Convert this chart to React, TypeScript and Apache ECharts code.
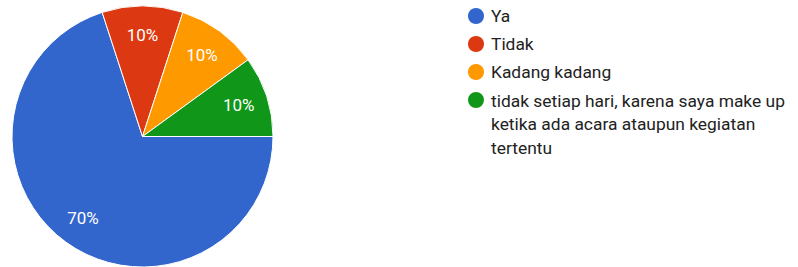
import React, { useEffect, useRef } from "react";
import * as echarts from "echarts";

const categories = [
  "Ya",
  "Tidak",
  "Kadang kadang",
  "tidak setiap hari, karena saya make up ketika ada acara ataupun kegiatan tertentu",
];
const values = [7, 1, 1, 1];
const colors = ["#3366cc", "#dc3912", "#ff9900", "#109618"];
const legendLabels = [
  "Ya",
  "Tidak",
  "Kadang kadang",
  "tidak setiap hari, karena saya make up\nketika ada acara ataupun kegiatan\ntertentu",
];

const FONT = "Roboto, Arial, sans-serif";

export default function App() {
  const ref = useRef<HTMLDivElement>(null);
  useEffect(() => {
    if (!ref.current) return;
    const chart = echarts.init(ref.current, undefined, { renderer: "svg" });
    const data = categories.map((name, i) => ({
      name,
      value: values[i],
      itemStyle: { color: colors[i] },
    }));
    const labelFor = (name: string) => legendLabels[categories.indexOf(name)] ?? name;
    chart.setOption({
      animation: false,
      backgroundColor: "#ffffff",
      legend: [
        {
          orient: "vertical",
          left: 466,
          top: 6,
          padding: 0,
          itemWidth: 18,
          itemHeight: 18,
          itemGap: 8,
          icon: "circle",
          selectedMode: false,
          data: categories.slice(0, 3),
          formatter: labelFor,
          textStyle: { fontFamily: FONT, fontSize: 17.4, color: "#222222", lineHeight: 18, padding: [0, 0, 0, 1] },
        },
        {
          orient: "vertical",
          left: 466,
          top: 87,
          padding: 0,
          itemWidth: 18,
          itemHeight: 72,
          selectedMode: false,
          data: [
            {
              name: categories[3],
              icon: "path://M0,0L0,0M18,72L18,72M0,12A9,9,0,1,0,18,12A9,9,0,1,0,0,12Z",
            },
          ],
          formatter: labelFor,
          textStyle: { fontFamily: FONT, fontSize: 17.4, color: "#222222", lineHeight: 23.5, padding: [0, 0, 0, 1] },
        },
      ],
      series: [
        {
          type: "pie",
          center: [142.5, 136.5],
          radius: 130.5,
          startAngle: 0,
          clockwise: true,
          silent: true,
          label: { show: false },
          labelLine: { show: false },
          itemStyle: { borderColor: "#ffffff", borderWidth: 1 },
          data,
        },
        {
          type: "pie",
          center: [142.5, 136.5],
          radius: [66, 130.5],
          startAngle: 0,
          clockwise: true,
          silent: true,
          percentPrecision: 0,
          avoidLabelOverlap: false,
          itemStyle: { color: "rgba(0,0,0,0)", borderWidth: 0 },
          label: {
            show: true,
            position: "inside",
            formatter: "{d}%",
            color: "#ffffff",
            fontFamily: FONT,
            fontSize: 17,
          },
          labelLine: { show: false },
          data: categories.map((name, i) => ({ name, value: values[i] })),
        },
      ],
    });
    return () => chart.dispose();
  }, []);
  return (
    <div
      ref={ref}
      style={{ position: "fixed", left: 0, top: 0, width: 798, height: 267 }}
    />
  );
}
